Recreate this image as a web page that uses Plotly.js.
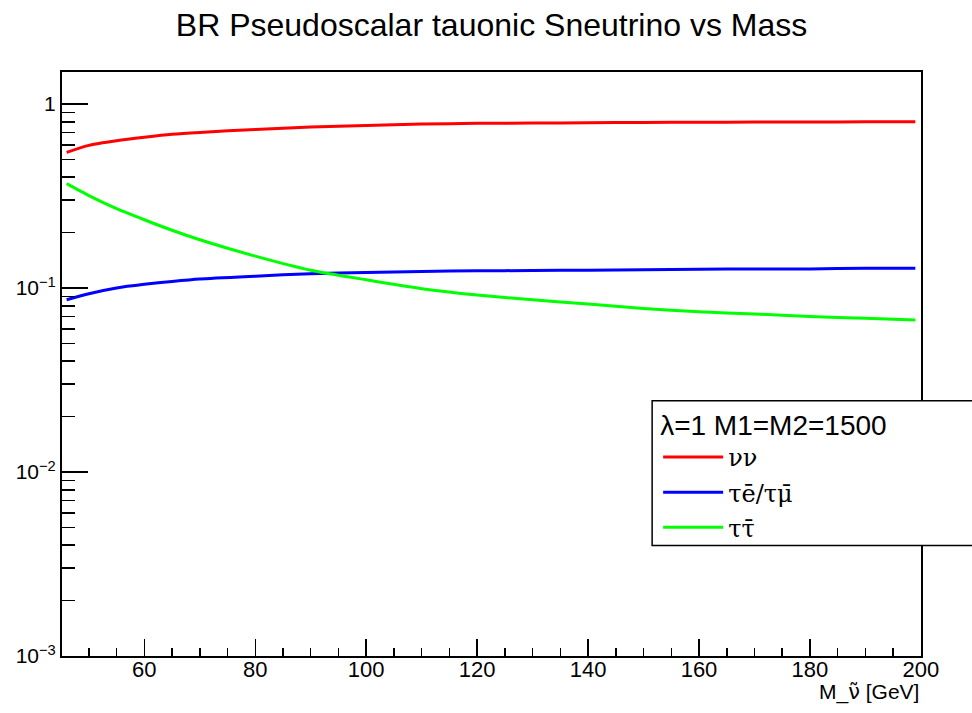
<!DOCTYPE html>
<html>
<head>
<meta charset="utf-8">
<script src="https://cdn.plot.ly/plotly-3.0.1.min.js"></script>
<style>html,body{margin:0;padding:0;background:#fff;}#chart{width:972px;height:713px;}</style>
</head>
<body>
<div id="chart"></div>
<script>
// Data
const mass = [46, 50, 55, 60, 65, 70, 80, 90, 100, 110, 120, 130, 140, 150, 160, 170, 180, 190, 199];
const brNuNu = [0.546, 0.596, 0.631, 0.659, 0.684, 0.701, 0.728, 0.750, 0.765, 0.778, 0.785, 0.788, 0.791, 0.794, 0.796, 0.798, 0.799, 0.800, 0.801];
const brTauE = [0.0863, 0.0931, 0.100, 0.1047, 0.1086, 0.112, 0.116, 0.1197, 0.1216, 0.123, 0.124, 0.1245, 0.125, 0.1258, 0.1265, 0.1268, 0.127, 0.128, 0.128];
const brTauTau = [0.369, 0.318, 0.270, 0.235, 0.206, 0.183, 0.149, 0.125, 0.1108, 0.0992, 0.0916, 0.0863, 0.0818, 0.0775, 0.0743, 0.0722, 0.0701, 0.0684, 0.067];

const seriesNames = ["\u03BD\u03BD", "\u03C4e\u0304/\u03C4\u03BC\u0304", "\u03C4\u03C4\u0304"];
const seriesColors = ["#ff0000", "#0000ff", "#00ff00"];

const yTickVals = [0.001, 0.01, 0.1, 1];
const yTickText = ["10<sup>\u22123</sup>", "10<sup>\u22122</sup>", "10<sup>\u22121</sup>", "1"];
const titleText = "BR Pseudoscalar tauonic Sneutrino vs Mass";
const xTitleText = "M_<span style=\"font-family:'DejaVu Sans'\">\u03BD\u0303</span> [GeV]";
const legendHeader = "\u03BB=1 M1=M2=1500";

const yMinor = [];
[0.001, 0.01, 0.1].forEach(d => { for (let k = 2; k <= 9; k++) yMinor.push(+(d * k).toPrecision(3)); });

const seriesY = [brNuNu, brTauE, brTauTau];
const traces = seriesY.map((ys, i) => ({
  x: mass, y: ys, type: 'scatter', mode: 'lines',
  name: seriesNames[i], legendgroup: 'g' + i,
  line: {color: seriesColors[i], width: 3, shape: 'spline', smoothing: 0.6}
}));

const layout = {
  width: 972, height: 713,
  margin: {l: 62, r: 51, t: 72, b: 57, pad: 0},
  paper_bgcolor: '#fff', plot_bgcolor: '#fff',
  font: {family: 'Liberation Sans, Arial, sans-serif', color: '#000'},
  title: {text: titleText, font: {size: 32, color: '#000'}, x: 0.5057, xanchor: 'center', y: 0.965, yanchor: 'middle', yref: 'container'},
  xaxis: {
    range: [45.16, 200.02], showgrid: false, zeroline: false,
    showline: true, linecolor: '#000', linewidth: 2, mirror: true,
    ticks: 'inside', ticklen: 17, tickwidth: 1.5, tickcolor: '#000',
    dtick: 20, tick0: 0, tickfont: {size: 22, color: '#000'}, ticklabelstandoff: -7,
    minor: {dtick: 5, tick0: 0, ticks: 'inside', ticklen: 8, tickwidth: 1.5, tickcolor: '#000', showgrid: false}
  },
  yaxis: {
    type: 'log', range: [-3, 0.174], showgrid: false, zeroline: false,
    showline: true, linecolor: '#000', linewidth: 2, mirror: true,
    ticks: 'inside', ticklen: 26, tickwidth: 1.5, tickcolor: '#000',
    tickmode: 'array', tickvals: yTickVals, ticktext: yTickText,
    tickfont: {size: 21, color: '#000'},
    minor: {tickmode: 'array', tickvals: yMinor, ticks: 'inside', ticklen: 13, tickwidth: 1.5, tickcolor: '#000', showgrid: false}
  },
  showlegend: true,
  legend: {
    x: 0.694, y: 0.441, xanchor: 'left', yanchor: 'top',
    bgcolor: 'rgba(0,0,0,0)', borderwidth: 0,
    font: {family: 'DejaVu Serif, serif', size: 24, color: '#000'},
    title: {text: legendHeader, font: {family: 'Liberation Sans, Arial, sans-serif', size: 28, color: '#000'}},
    tracegroupgap: 1, itemwidth: 60
  },
  shapes: [{
    type: 'rect', xref: 'paper', yref: 'paper', x0: 0.687, x1: 1.12, y0: 0.189, y1: 0.437,
    line: {color: '#000', width: 1.5}, fillcolor: '#fff', layer: 'above'
  }],
  annotations: [{
    text: xTitleText, xref: 'paper', yref: 'paper', x: 1.0, y: -0.0616,
    xanchor: 'right', yanchor: 'middle', showarrow: false,
    font: {size: 21, color: '#000'}
  }]
};

Plotly.newPlot('chart', traces, layout, {displayModeBar: false, staticPlot: true});
</script>
</body>
</html>
